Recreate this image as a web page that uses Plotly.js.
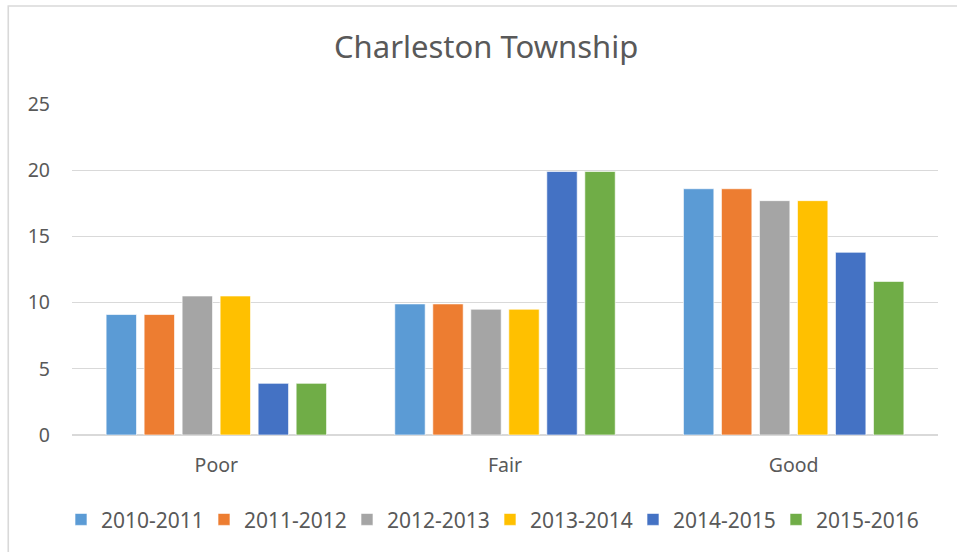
<!DOCTYPE html>
<html>
<head>
<meta charset="utf-8">
<script src="https://cdn.plot.ly/plotly-3.0.1.min.js"></script>
<style>html,body{margin:0;padding:0;background:#fff;}#chart{width:957px;height:552px;}</style>
</head>
<body>
<div id="chart"></div>
<script>
var categories = ["Poor", "Fair", "Good"];
var seriesNames = ["2010-2011", "2011-2012", "2012-2013", "2013-2014", "2014-2015", "2015-2016"];
var s2010 = [9.1, 9.9, 18.6];
var s2011 = [9.1, 9.9, 18.6];
var s2012 = [10.5, 9.5, 17.7];
var s2013 = [10.5, 9.5, 17.7];
var s2014 = [3.9, 19.9, 13.8];
var s2015 = [3.9, 19.9, 11.6];
var seriesValues = [s2010, s2011, s2012, s2013, s2014, s2015];
var colors = ["#5B9BD5", "#ED7D31", "#A5A5A5", "#FFC000", "#4472C4", "#70AD47"];
var yTicks = [0, 5, 10, 15, 20, 25];

var font = "Noto Sans, sans-serif";
var textColor = "#595959";

var traces = seriesNames.map(function(name, i) {
  return {
    type: "bar",
    name: name,
    x: categories,
    y: seriesValues[i],
    marker: {color: colors[i], line: {color: "rgba(255,255,255,0.8)", width: 0.8}},
    hoverinfo: "x+y+name"
  };
});

var layout = {
  width: 957,
  height: 552,
  margin: {l: 72, r: 19, t: 104, b: 117},
  paper_bgcolor: "#ffffff",
  plot_bgcolor: "#ffffff",
  font: {family: font, color: textColor, size: 19.5},
  title: {
    text: "Charleston Township",
    font: {family: font, size: 31, color: textColor},
    x: 0.508, xref: "container", xanchor: "center",
    y: 0.915, yref: "container", yanchor: "middle"
  },
  barmode: "group",
  bargap: 0.21,
  bargroupgap: 0.2,
  xaxis: {
    showgrid: false,
    showline: false,
    zeroline: false,
    ticks: "",
    ticklabelstandoff: 16,
    tickfont: {family: font, size: 19.5, color: textColor},
    fixedrange: true
  },
  yaxis: {
    range: [0, 25],
    tickvals: yTicks,
    ticktext: yTicks.map(String),
    showgrid: true,
    gridcolor: "#d9d9d9",
    gridwidth: 1.3,
    zeroline: true,
    zerolinecolor: "#d9d9d9",
    zerolinewidth: 1.3,
    showline: false,
    ticks: "",
    ticklabelstandoff: 21,
    tickfont: {family: font, size: 19.5, color: textColor},
    fixedrange: true
  },
  showlegend: true,
  legend: {
    orientation: "h",
    x: -0.0127, xanchor: "left",
    y: -0.256, yanchor: "middle",
    font: {family: font, size: 21, color: textColor},
    traceorder: "normal",
    itemwidth: 30,
    entrywidth: 98,
    entrywidthmode: "pixels",
    bgcolor: "rgba(0,0,0,0)"
  },
  shapes: [{
    type: "rect", xref: "paper", yref: "paper",
    x0: -0.0736, x1: 1.2, y0: -0.6, y1: 1.296,
    line: {color: "#d9d9d9", width: 1.6},
    fillcolor: "rgba(0,0,0,0)",
    layer: "below"
  }]
};

Plotly.newPlot("chart", traces, layout, {displayModeBar: false, staticPlot: true});
</script>
</body>
</html>
